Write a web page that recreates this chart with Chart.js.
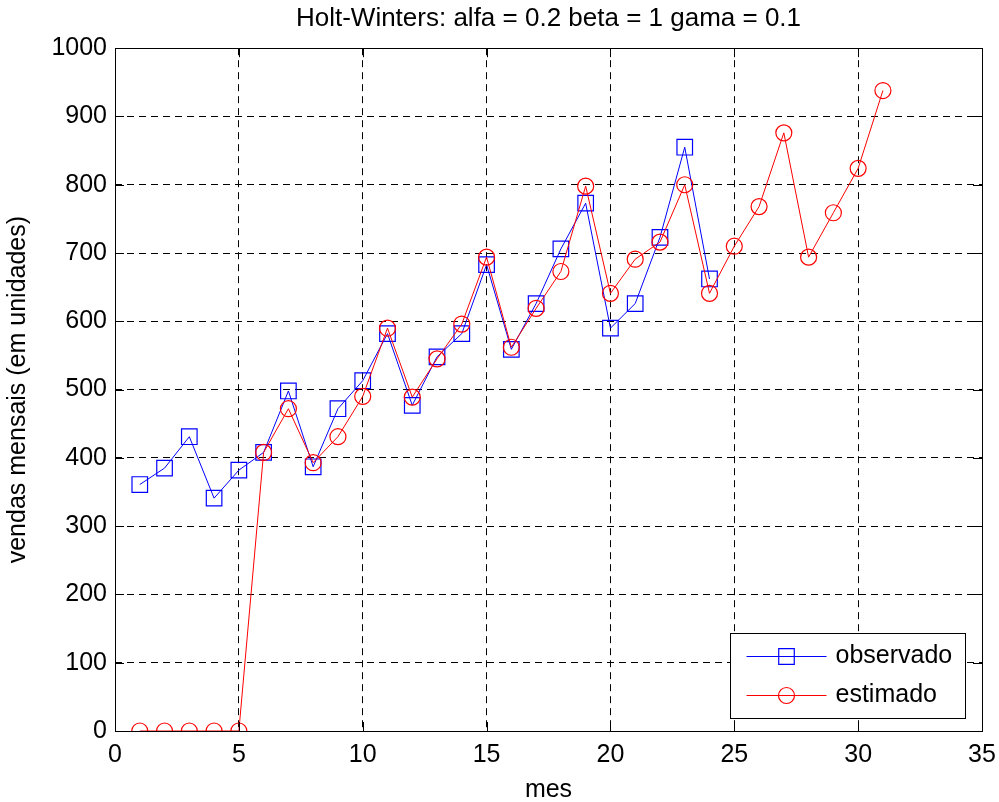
<!DOCTYPE html>
<html>
<head>
<meta charset="utf-8">
<script src="https://cdn.jsdelivr.net/npm/chart.js@4/dist/chart.umd.min.js"></script>
<style>
  html, body { margin: 0; padding: 0; background: #fff; }
  #wrap { width: 999px; height: 802px; }
</style>
</head>
<body>
<div id="wrap"><canvas id="c" width="999" height="802"></canvas></div>
<script>
// Monthly sales: observed values and Holt-Winters estimates
const meses = [1, 2, 3, 4, 5, 6, 7, 8, 9, 10, 11, 12, 13, 14, 15, 16,
               17, 18, 19, 20, 21, 22, 23, 24, 25, 26, 27, 28, 29, 30, 31];
const observado = [361, 385, 431, 341, 382, 408, 498, 387, 472, 513, 582, 477,
                   548, 582, 683, 559, 626, 706, 773, 590, 626, 723, 855, 662];
const estimado = [0, 0, 0, 0, 0, 408, 472, 393, 431, 490, 590, 489, 545, 596, 694, 562,
                  619, 673, 798, 641, 691, 716, 800, 641, 710, 768, 876, 694, 759, 824, 938];
const xTicks = [0, 5, 10, 15, 20, 25, 30, 35];
const yTicks = [0, 100, 200, 300, 400, 500, 600, 700, 800, 900, 1000];

const FONT = "'Liberation Sans', Arial, Helvetica, sans-serif";
Chart.defaults.font.family = FONT;
Chart.defaults.font.size = 25;
Chart.defaults.color = '#000';

const toPoints = vals => vals.map((v, i) => ({ x: meses[i], y: v }));

// Axis box with inward tick marks, plus a boxed legend in the lower right
const matlabAxes = {
  id: 'matlabAxes',
  afterDatasetsDraw(chart) {
    const { ctx, chartArea: a, scales } = chart;
    const xs = scales.x, ys = scales.y;
    const tl = 9;
    ctx.save();
    ctx.strokeStyle = '#000';
    ctx.lineWidth = 1;
    ctx.setLineDash([]);
    ctx.beginPath();
    xTicks.forEach(t => {
      const px = Math.round(xs.getPixelForValue(t)) + 0.5;
      ctx.moveTo(px, a.bottom); ctx.lineTo(px, a.bottom - tl);
      ctx.moveTo(px, a.top); ctx.lineTo(px, a.top + tl);
    });
    yTicks.forEach(t => {
      const py = Math.round(ys.getPixelForValue(t)) + 0.5;
      ctx.moveTo(a.left, py); ctx.lineTo(a.left + tl, py);
      ctx.moveTo(a.right, py); ctx.lineTo(a.right - tl, py);
    });
    ctx.stroke();
    ctx.strokeRect(Math.round(a.left) + 0.5, Math.round(a.top) + 0.5,
                   Math.round(a.right - a.left), Math.round(a.bottom - a.top));

    // legend
    const bw = 235, bh = 85;
    const bx = Math.round(a.right - 17 - bw) + 0.5;
    const by = Math.round(a.bottom - 13 - bh) + 0.5;
    ctx.fillStyle = '#fff';
    ctx.fillRect(bx, by, bw, bh);
    ctx.strokeStyle = '#000';
    ctx.strokeRect(bx, by, bw, bh);
    chart.data.datasets.forEach((ds, i) => {
      const ry = by + 23 + i * 39;
      const x0 = bx + 16, x1 = bx + 96, xm = (x0 + x1) / 2;
      ctx.strokeStyle = ds.borderColor;
      ctx.fillStyle = 'rgba(0,0,0,0)';
      ctx.lineWidth = 1;
      ctx.beginPath();
      ctx.moveTo(x0, ry); ctx.lineTo(x1, ry);
      ctx.stroke();
      ctx.lineWidth = ds.pointBorderWidth;
      Chart.helpers.drawPoint(ctx, {
        pointStyle: ds.pointStyle, radius: ds.pointRadius, borderWidth: ds.pointBorderWidth
      }, xm, ry);
      ctx.fillStyle = '#000';
      ctx.font = '25px ' + FONT;
      ctx.textAlign = 'left';
      ctx.textBaseline = 'middle';
      ctx.fillText(ds.label, bx + 105, ry);
    });
    ctx.restore();
  }
};

new Chart(document.getElementById('c'), {
  type: 'line',
  data: {
    datasets: [
      {
        label: 'observado',
        data: toPoints(observado),
        borderColor: '#0000ff',
        backgroundColor: 'rgba(0,0,0,0)',
        borderWidth: 1,
        pointStyle: 'rect',
        pointRadius: 11,
        pointBorderWidth: 1.2,
        pointBackgroundColor: 'rgba(0,0,0,0)',
        pointBorderColor: '#0000ff',
        tension: 0,
        order: 1
      },
      {
        label: 'estimado',
        data: toPoints(estimado),
        borderColor: '#ff0000',
        backgroundColor: 'rgba(0,0,0,0)',
        borderWidth: 1,
        pointStyle: 'circle',
        pointRadius: 8,
        pointBorderWidth: 1.2,
        pointBackgroundColor: 'rgba(0,0,0,0)',
        pointBorderColor: '#ff0000',
        tension: 0,
        order: 0
      }
    ]
  },
  options: {
    responsive: false,
    animation: false,
    events: [],
    layout: { padding: { left: 0, right: 17, top: 0, bottom: 0 } },
    plugins: {
      legend: { display: false },
      tooltip: { enabled: false },
      title: {
        display: true,
        fullSize: false,
        text: 'Holt-Winters: alfa = 0.2 beta = 1 gama = 0.1',
        font: { size: 26, weight: 'normal' },
        color: '#000',
        padding: { top: 3, bottom: 14 }
      }
    },
    scales: {
      x: {
        type: 'linear',
        min: 0, max: 35,
        afterBuildTicks: s => { s.ticks = xTicks.map(v => ({ value: v })); },
        afterFit: s => { s.height = 71; s.paddingLeft = 0; s.paddingRight = 0; },
        ticks: { padding: 9, maxRotation: 0, font: { size: 25 }, color: '#000',
                 callback: v => String(v) },
        grid: { color: '#000', lineWidth: 1, drawTicks: false },
        border: { display: false, dash: [7, 5] },
        title: { display: true, text: 'mes', font: { size: 25 }, color: '#000',
                 padding: { top: 0, bottom: -3 } }
      },
      y: {
        type: 'linear',
        min: 0, max: 1000,
        afterBuildTicks: s => { s.ticks = yTicks.map(v => ({ value: v })); },
        afterFit: s => { s.width = 115; },
        ticks: { padding: 8, font: { size: 25 }, color: '#000',
                 callback: v => String(v) },
        grid: { color: '#000', lineWidth: 1, drawTicks: false },
        border: { display: false, dash: [7, 5] },
        title: { display: true, text: 'vendas mensais (em unidades)', font: { size: 25 },
                 color: '#000', padding: { top: 3, bottom: 0 } }
      }
    }
  },
  plugins: [matlabAxes]
});
</script>
</body>
</html>
